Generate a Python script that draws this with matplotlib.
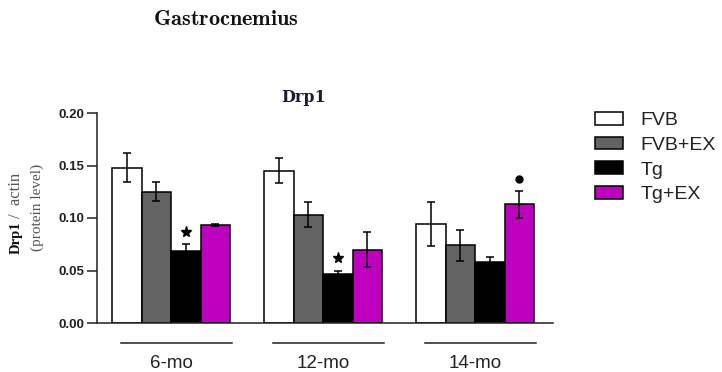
import matplotlib
matplotlib.use("Agg")
import matplotlib.pyplot as plt
import numpy as np

groups = ["6-mo", "12-mo", "14-mo"]
series = ["FVB", "FVB+EX", "Tg", "Tg+EX"]
colors = ["#ffffff", "#636363", "#000000", "#bf00bf"]
values = {
    "FVB":    [0.148, 0.145, 0.094],
    "FVB+EX": [0.125, 0.103, 0.074],
    "Tg":     [0.069, 0.047, 0.058],
    "Tg+EX":  [0.093, 0.070, 0.113],
}
errors = {
    "FVB":    [0.014, 0.012, 0.021],
    "FVB+EX": [0.009, 0.012, 0.015],
    "Tg":     [0.006, 0.003, 0.005],
    "Tg+EX":  [0.001, 0.017, 0.013],
}
# significance markers: (series, group index, y position, marker)
sig_marks = [("Tg", 0, 0.0865, "*"), ("Tg", 1, 0.062, "*"), ("Tg+EX", 2, 0.137, "o")]
yticks = [0.00, 0.05, 0.10, 0.15, 0.20]

fig = plt.figure(figsize=(7.22, 3.72), dpi=100)
ax = fig.add_axes([97/722, 1-323/372, (553-97)/722, (323-113)/372])

w = 0.194
x = np.arange(len(groups))
for i, s in enumerate(series):
    pos = x + (i - 1.5) * w
    ax.bar(pos, values[s], w, color=colors[i], edgecolor="black", linewidth=1.1,
           yerr=errors[s], capsize=3, error_kw=dict(elinewidth=1.1, capthick=1.1, ecolor="black"),
           label=s, zorder=2)

for s, g, yv, m in sig_marks:
    i = series.index(s)
    xp = x[g] + (i - 1.5) * w
    if m == "*":
        ax.plot(xp, yv, marker="*", color="black", markersize=8, clip_on=False, zorder=3)
    else:
        ax.plot(xp, yv, marker="o", color="black", markersize=5, clip_on=False, zorder=3)

ax.set_xlim(-0.487, 2.513)
ax.set_ylim(0, 0.20)
ax.set_yticks(yticks)
ax.set_yticklabels([f"{v:.2f}" for v in yticks], fontsize=9.5, fontweight="bold",
                   color="#222222", family="Liberation Sans")
ax.tick_params(axis="y", length=7, width=1.1, color="#222222", pad=2)
ax.set_xticks(x)
ax.set_xticklabels(groups, fontsize=13.5, family="Liberation Sans", color="#222222")
ax.tick_params(axis="x", length=0, pad=23)
for sp in ["top", "right"]:
    ax.spines[sp].set_visible(False)
for sp in ["left", "bottom"]:
    ax.spines[sp].set_linewidth(1.1)
    ax.spines[sp].set_color("#222222")

# group underlines
for g in x:
    ax.plot([g + 0.035 - 0.365, g + 0.035 + 0.365], [-0.019, -0.019], color="#222222",
            linewidth=1.1, clip_on=False)

fig.text(304/722, 1-98/372, "Drp1", fontsize=11.5, fontweight="bold", family="DejaVu Serif",
         color="#1b1b2f", ha="center", va="center")

fig.text(226/722, 1-19/372, r"$\mathbf{Gastrocnemius}$", math_fontfamily="cm",
         fontsize=16, ha="center", va="center", color="#111111")

# y label
fig.text(16/722, 1-238/372, "Drp1", rotation=90, fontsize=10.5, fontweight="bold",
         family="Liberation Serif", ha="center", va="center", color="#111111")
fig.text(16/722, 1-195/372, "/  actin", rotation=90, fontsize=12,
         family="Liberation Serif", ha="center", va="center", color="#555555")
fig.text(37/722, 1-207/372, "(protein level)", rotation=90, fontsize=11,
         family="Liberation Serif", ha="center", va="center", color="#555555")

leg = ax.legend(loc="upper left", bbox_to_anchor=(595/722, 1-112/372),
                bbox_transform=fig.transFigure, frameon=False,
                prop={"family": "Liberation Sans", "size": 14},
                handlelength=1.45, handleheight=0.62, handletextpad=0.9,
                labelspacing=0.39, borderpad=0, borderaxespad=0)
for t in leg.get_texts():
    t.set_color("#222222")

fig.savefig("out.png", dpi=100)
